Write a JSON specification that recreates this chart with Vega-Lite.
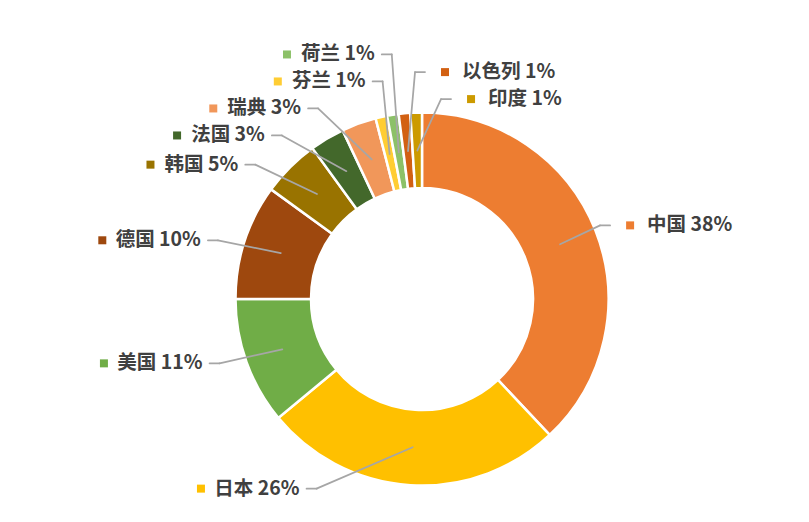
{
  "$schema": "https://vega.github.io/schema/vega-lite/v6.json",
  "description": "Doughnut chart of country shares with outside labels and leader lines",
  "autosize": {"type": "none"},
  "padding": {"left": 35, "top": 76, "right": 0, "bottom": 0},
  "width": 774,
  "height": 446,
  "background": "white",
  "view": {"stroke": null},
  "config": {"text": {"font": "Noto Sans CJK SC"}},
  "data": {
    "values": [
      {"country": "中国", "value": 38},
      {"country": "日本", "value": 26},
      {"country": "美国", "value": 11},
      {"country": "德国", "value": 10},
      {"country": "韩国", "value": 5},
      {"country": "法国", "value": 3},
      {"country": "瑞典", "value": 3},
      {"country": "芬兰", "value": 1},
      {"country": "荷兰", "value": 1},
      {"country": "以色列", "value": 1},
      {"country": "印度", "value": 1}
    ]
  },
  "transform": [
    {"window": [{"op": "row_number", "as": "idx"}]},
    {"window": [{"op": "sum", "field": "value", "as": "cumEnd"}], "sort": [{"field": "idx"}], "frame": [null, 0]},
    {"joinaggregate": [{"op": "sum", "field": "value", "as": "total"}]},
    {"calculate": "(datum.cumEnd - datum.value / 2) / datum.total", "as": "mid"},
    {"calculate": "datum.mid * 360", "as": "deg"},
    {"calculate": "datum.mid * 2 * PI", "as": "a"},
    {"calculate": "148.5 * sin(datum.a)", "as": "x0"},
    {"calculate": "148.5 * cos(datum.a)", "as": "y0"},
    {"calculate": "(sin(datum.a) >= 0 || (cos(datum.a) > 0 && 200 * sin(datum.a) > -20)) ? 1 : -1", "as": "side"},
    {"calculate": "(datum.side > 0 ? 200 : 190) * cos(datum.a)", "as": "ry"},
    {"calculate": "datum.side > 0 ? -(datum.deg > 180 ? datum.deg - 360 : datum.deg) : datum.deg", "as": "sortKey"},
    {"window": [{"op": "row_number", "as": "k"}], "groupby": ["side"], "sort": [{"field": "sortKey"}]},
    {"calculate": "datum.ry - 27 * datum.k", "as": "t"},
    {"window": [{"op": "max", "field": "t", "as": "tmax"}], "groupby": ["side"], "sort": [{"field": "sortKey"}], "frame": [null, 0]},
    {"calculate": "datum.tmax + 27 * datum.k", "as": "ly"},
    {"calculate": "datum.side > 0 ? 202 : 222", "as": "hugR"},
    {"calculate": "sqrt(max(datum.hugR * datum.hugR - datum.ly * datum.ly, 0))", "as": "hug"},
    {"calculate": "datum.side > 0 ? max(datum.hug, datum.x0 + 17) : min(-datum.hug, datum.x0 - 17)", "as": "le"},
    {"calculate": "datum.le - 10 * datum.side", "as": "ex"},
    {"calculate": "19.5 * length(datum.country) + 4.5 + 10.8 * length(toString(datum.value)) + 17", "as": "w"},
    {"calculate": "datum.side > 0 ? datum.le + 37 : datum.le - 7", "as": "tx"},
    {"calculate": "datum.side > 0 ? datum.le + 20 : datum.le - 7 - datum.w - 16.5", "as": "sx"},
    {"calculate": "datum.country + ' ' + datum.value + '%'", "as": "label"}
  ],
  "layer": [
    {
      "mark": {"type": "arc", "innerRadius": 111, "outerRadius": 186.5, "stroke": "white", "strokeWidth": 2.5},
      "encoding": {
        "theta": {"field": "value", "type": "quantitative", "stack": true},
        "order": {"field": "idx", "type": "quantitative"},
        "color": {
          "field": "country", "type": "nominal", "legend": null,
          "scale": {
            "domain": ["中国", "日本", "美国", "德国", "韩国", "法国", "瑞典", "芬兰", "荷兰", "以色列", "印度"],
            "range": ["#ED7D31", "#FFC000", "#70AD47", "#9E480E", "#997300", "#43682B", "#F1975A", "#FFCD33", "#8CC168", "#D26012", "#CC9A00"]
          }
        }
      }
    },
    {
      "mark": {"type": "rule", "color": "#A6A6A6", "strokeWidth": 1.75, "strokeCap": "round"},
      "encoding": {
        "x": {"field": "x0", "type": "quantitative", "scale": {"domain": [-387, 387], "nice": false, "zero": false}, "axis": null},
        "y": {"field": "y0", "type": "quantitative", "scale": {"domain": [-223, 223], "nice": false, "zero": false}, "axis": null},
        "x2": {"field": "ex"},
        "y2": {"field": "ly"}
      }
    },
    {
      "mark": {"type": "rule", "color": "#A6A6A6", "strokeWidth": 1.75, "strokeCap": "round"},
      "encoding": {
        "x": {"field": "ex", "type": "quantitative", "scale": {"domain": [-387, 387], "nice": false, "zero": false}, "axis": null},
        "y": {"field": "ly", "type": "quantitative", "scale": {"domain": [-223, 223], "nice": false, "zero": false}, "axis": null},
        "x2": {"field": "le"},
        "y2": {"field": "ly"}
      }
    },
    {
      "mark": {"type": "point", "shape": "square", "filled": true, "size": 64, "opacity": 1},
      "encoding": {
        "x": {"field": "sx", "type": "quantitative", "scale": {"domain": [-387, 387], "nice": false, "zero": false}, "axis": null},
        "y": {"field": "ly", "type": "quantitative", "scale": {"domain": [-223, 223], "nice": false, "zero": false}, "axis": null},
        "color": {"field": "country", "type": "nominal", "legend": null}
      }
    },
    {
      "transform": [{"filter": "datum.side < 0"}],
      "mark": {"type": "text", "align": "right", "baseline": "middle", "fontSize": 19.5, "fontWeight": "bold", "color": "#404040"},
      "encoding": {
        "x": {"field": "tx", "type": "quantitative", "scale": {"domain": [-387, 387], "nice": false, "zero": false}, "axis": null},
        "y": {"field": "ly", "type": "quantitative", "scale": {"domain": [-223, 223], "nice": false, "zero": false}, "axis": null},
        "text": {"field": "label"}
      }
    },
    {
      "transform": [{"filter": "datum.side > 0"}],
      "mark": {"type": "text", "align": "left", "baseline": "middle", "fontSize": 19.5, "fontWeight": "bold", "color": "#404040"},
      "encoding": {
        "x": {"field": "tx", "type": "quantitative", "scale": {"domain": [-387, 387], "nice": false, "zero": false}, "axis": null},
        "y": {"field": "ly", "type": "quantitative", "scale": {"domain": [-223, 223], "nice": false, "zero": false}, "axis": null},
        "text": {"field": "label"}
      }
    }
  ]
}
